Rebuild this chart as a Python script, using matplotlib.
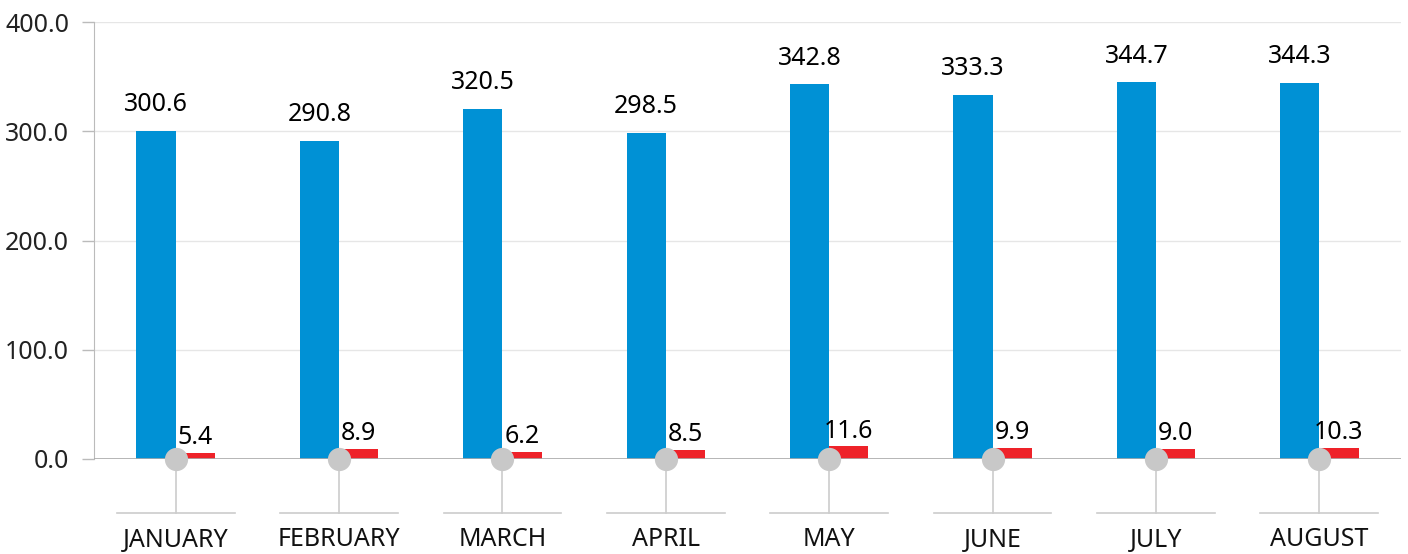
import matplotlib.pyplot as plt
import matplotlib.transforms as mtransforms
import numpy as np

plt.rcParams['font.family'] = ['Noto Sans', 'DejaVu Sans']

# === Data ===
months = ['JANUARY', 'FEBRUARY', 'MARCH', 'APRIL', 'MAY', 'JUNE', 'JULY', 'AUGUST']
blue_vals = [300.6, 290.8, 320.5, 298.5, 342.8, 333.3, 344.7, 344.3]
red_vals = [5.4, 8.9, 6.2, 8.5, 11.6, 9.9, 9.0, 10.3]

BLUE = '#0091D5'
RED = '#EE2229'
GREY = '#C8C8C8'

fig = plt.figure(figsize=(14.08, 5.54), dpi=100)
ax = fig.add_axes([94 / 1408, 1 - 459 / 554, (1401 - 94) / 1408, 437 / 554])

x = np.arange(len(months))
w = 0.24

ax.bar(x - w / 2, blue_vals, width=w, color=BLUE, zorder=3)
ax.bar(x + w / 2, red_vals, width=w, color=RED, zorder=3)

for xi, v in zip(x, blue_vals):
    ax.annotate(f'{v:.1f}', (xi - w / 2, v), xytext=(0, 10), textcoords='offset points',
                ha='center', va='bottom', fontsize=18, color='black')
for xi, v in zip(x, red_vals):
    ax.annotate(f'{v:.1f}', (xi + w / 2, v), xytext=(0, 2), textcoords='offset points',
                ha='center', va='bottom', fontsize=18, color='black')

ax.set_xlim(-0.5, len(months) - 0.5)
ax.set_ylim(0, 400)
ax.set_yticks([0, 100, 200, 300, 400])
ax.set_yticklabels([f'{t:.1f}' for t in [0, 100, 200, 300, 400]], fontsize=18, color='#222222')
ax.set_xticks([])
ax.tick_params(axis='y', length=9, width=1, color='#BBBBBB', pad=9)
ax.grid(axis='y', color='#E6E6E6', linewidth=1, zorder=0)

for s in ['top', 'right', 'bottom']:
    ax.spines[s].set_visible(False)
ax.spines['left'].set_color('#BBBBBB')
ax.axhline(0, color='#AAAAAA', linewidth=1.2, zorder=4)

# connectors and month labels below the axis
trans = mtransforms.blended_transform_factory(ax.transData, ax.transAxes)
y_line = -54 / 437
for xi, m in zip(x, months):
    ax.plot([xi, xi], [0, y_line], transform=trans, color='#CCCCCC', linewidth=1.2,
            clip_on=False, zorder=2)
    ax.plot([xi - 0.36, xi + 0.36], [y_line, y_line], transform=trans, color='#CCCCCC',
            linewidth=1.2, clip_on=False, zorder=2)
    ax.text(xi, -81 / 437, m, transform=trans, ha='center', va='center', fontsize=18,
            color='#111111')

ax.scatter(x, [0] * len(x), s=280, color=GREY, zorder=5, clip_on=False, linewidths=0)

plt.savefig('out.png', dpi=100)
